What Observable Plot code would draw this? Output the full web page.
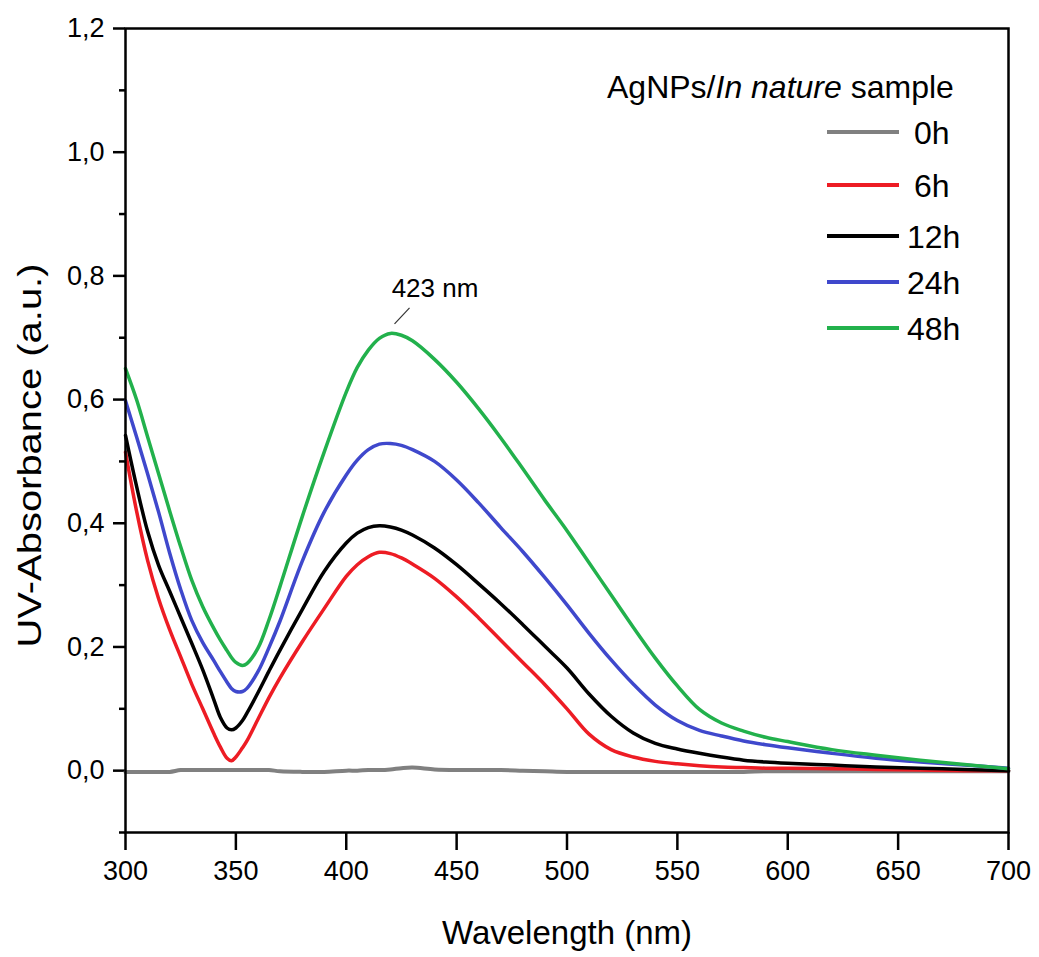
<!DOCTYPE html>
<html>
<head>
<meta charset="utf-8">
<script src="https://cdn.jsdelivr.net/npm/d3@7"></script>
<script src="https://cdn.jsdelivr.net/npm/@observablehq/plot@0.6"></script>
<style>
  body { margin: 0; background: white; }
  #chart { position: relative; width: 1039px; height: 957px; }
</style>
</head>
<body>
<div id="chart"></div>
<script>
// ---- data ----
const wavelengths = [300,305,310,315,320,325,330,335,340,343,346,348,350,353,355,360,365,370,380,390,400,405,410,415,420,425,430,440,450,460,470,480,490,500,510,520,530,540,550,560,570,580,590,600,620,640,660,680,700];
const series = ["0h", "6h", "12h", "24h", "48h"];
const colors = ["#808080", "#ed1c24", "#000000", "#3f48cc", "#22b14c"];
const abs0h  = [-0.002,-0.002,-0.002,-0.002,-0.002,0.001,0.001,0.001,0.001,0.001,0.001,0.001,0.001,0.001,0.001,0.001,0.001,-0.001,-0.002,-0.002,0.0,0.0,0.001,0.001,0.002,0.004,0.005,0.002,0.001,0.001,0.001,0.0,-0.001,-0.002,-0.002,-0.002,-0.002,-0.002,-0.002,-0.002,-0.002,-0.002,-0.001,-0.001,-0.001,-0.001,-0.001,-0.001,-0.001];
const abs6h  = [0.515,0.42,0.34,0.278,0.228,0.184,0.14,0.1,0.06,0.038,0.02,0.016,0.022,0.037,0.048,0.083,0.118,0.15,0.208,0.262,0.314,0.333,0.346,0.353,0.351,0.344,0.334,0.311,0.281,0.247,0.211,0.175,0.139,0.1,0.059,0.034,0.022,0.015,0.011,0.008,0.006,0.005,0.004,0.004,0.003,0.002,0.001,0.0,0.0];
const abs12h = [0.542,0.46,0.387,0.332,0.29,0.248,0.206,0.163,0.115,0.086,0.069,0.066,0.069,0.081,0.093,0.126,0.161,0.195,0.26,0.322,0.368,0.384,0.393,0.396,0.394,0.389,0.381,0.36,0.333,0.302,0.27,0.236,0.201,0.166,0.124,0.088,0.061,0.044,0.035,0.028,0.022,0.017,0.014,0.012,0.009,0.006,0.004,0.002,0.0];
const abs24h = [0.598,0.54,0.48,0.418,0.352,0.293,0.243,0.207,0.178,0.16,0.143,0.133,0.128,0.128,0.133,0.16,0.199,0.242,0.338,0.418,0.478,0.502,0.519,0.528,0.529,0.526,0.519,0.5,0.47,0.433,0.393,0.354,0.312,0.268,0.222,0.179,0.14,0.106,0.081,0.065,0.056,0.048,0.042,0.037,0.028,0.02,0.014,0.009,0.004];
const abs48h = [0.65,0.6,0.54,0.48,0.42,0.362,0.308,0.265,0.23,0.211,0.194,0.183,0.175,0.17,0.173,0.198,0.244,0.298,0.41,0.515,0.612,0.652,0.68,0.699,0.707,0.704,0.695,0.665,0.628,0.585,0.538,0.488,0.437,0.388,0.336,0.284,0.232,0.182,0.137,0.099,0.077,0.064,0.054,0.047,0.034,0.025,0.017,0.01,0.003];
const seriesValues = [abs0h, abs6h, abs12h, abs24h, abs48h];

const xTicks = [300,350,400,450,500,550,600,650,700];
const yMajorTicks = [0.0,0.2,0.4,0.6,0.8,1.0,1.2];
const yMinorTicks = [-0.1,0.1,0.3,0.5,0.7,0.9,1.1];
const xTitle = "Wavelength (nm)";
const yTitle = "UV-Absorbance (a.u.)";
const legendTitleParts = [["AgNPs/", "normal"], ["In nature", "italic"], [" sample", "normal"]];
const peakLabel = "423 nm";
const peakWavelength = 423;
const peakSeries = "48h";

// ---- build table ----
const rows = [];
series.forEach((s, i) => wavelengths.forEach((w, j) => rows.push({series: s, w, a: seriesValues[i][j]})));
const peakValue = d3.max(seriesValues[series.indexOf(peakSeries)]);

const font = "'Liberation Sans', Arial, sans-serif";
const fmt = d => d.toFixed(1).replace(".", ",");

const chart = Plot.plot({
  width: 1039,
  height: 957,
  marginLeft: 125,
  marginRight: 31,
  marginTop: 28,
  marginBottom: 125,
  x: {domain: [300, 700]},
  y: {domain: [-0.1, 1.2]},
  style: {fontFamily: font, background: "white", color: "black", overflow: "visible"},
  marks: [
    Plot.axisY(yMajorTicks, {tickSize: 12, tickPadding: 9, tickFormat: fmt, fontSize: 27, strokeWidth: 2.5, label: null}),
    Plot.axisY(yMinorTicks, {tickSize: 6, tickFormat: () => "", strokeWidth: 2.5, label: null}),
    Plot.axisX(xTicks, {tickSize: 18, tickPadding: 10, fontSize: 27, strokeWidth: 2.5, label: null}),
    ...series.map((s, i) => Plot.line(rows.filter(r => r.series === s), {
      x: "w", y: "a", stroke: colors[i], strokeWidth: i === 0 ? 4 : 3.5, curve: "catmull-rom"
    })),
    Plot.frame({stroke: "black", strokeWidth: 2.5}),
    Plot.text([peakLabel], {x: [peakWavelength], y: [peakValue], text: d => d, dx: 38, dy: -45, fontSize: 26}),
    Plot.text([xTitle], {frameAnchor: "bottom", dy: 111, fontSize: 33, text: d => d}),
    Plot.text([yTitle], {frameAnchor: "left", textAnchor: "middle", rotate: -90, dx: -95, dy: 25, fontSize: 33, text: d => d})
  ]
});

document.getElementById("chart").appendChild(chart);

const svg = d3.select(chart);
// stretch rotated y title to the reference's length
svg.selectAll("text").filter(function() { return this.textContent === yTitle; })
  .attr("textLength", 384).attr("lengthAdjust", "spacingAndGlyphs");

// leader line for peak label, placed with the plot's scales
const sx = chart.scale("x"), sy = chart.scale("y");
const px = sx.apply(peakWavelength), py = sy.apply(peakValue);
svg.append("line")
  .attr("x1", px - 2).attr("y1", py - 9)
  .attr("x2", px + 13).attr("y2", py - 25)
  .attr("stroke", "#333").attr("stroke-width", 1.2);

// legend
const lg = svg.append("g").attr("font-family", font).attr("fill", "black").attr("text-anchor", "start");
const title = lg.append("text").attr("x", 607).attr("y", 98).attr("font-size", 32).attr("text-anchor", "start");
legendTitleParts.forEach(([t, st]) => title.append("tspan").attr("font-style", st).text(t));
const rowY = [132, 185, 236, 282, 328];
series.forEach((s, i) => {
  lg.append("line").attr("x1", 827).attr("x2", 899).attr("y1", rowY[i]).attr("y2", rowY[i])
    .attr("stroke", colors[i]).attr("stroke-width", 4);
  lg.append("text").attr("x", s.length === 2 ? 914 : 907).attr("y", rowY[i]).attr("dy", "0.36em")
    .attr("text-anchor", "start").attr("font-size", 32).text(s);
});
</script>
</body>
</html>
